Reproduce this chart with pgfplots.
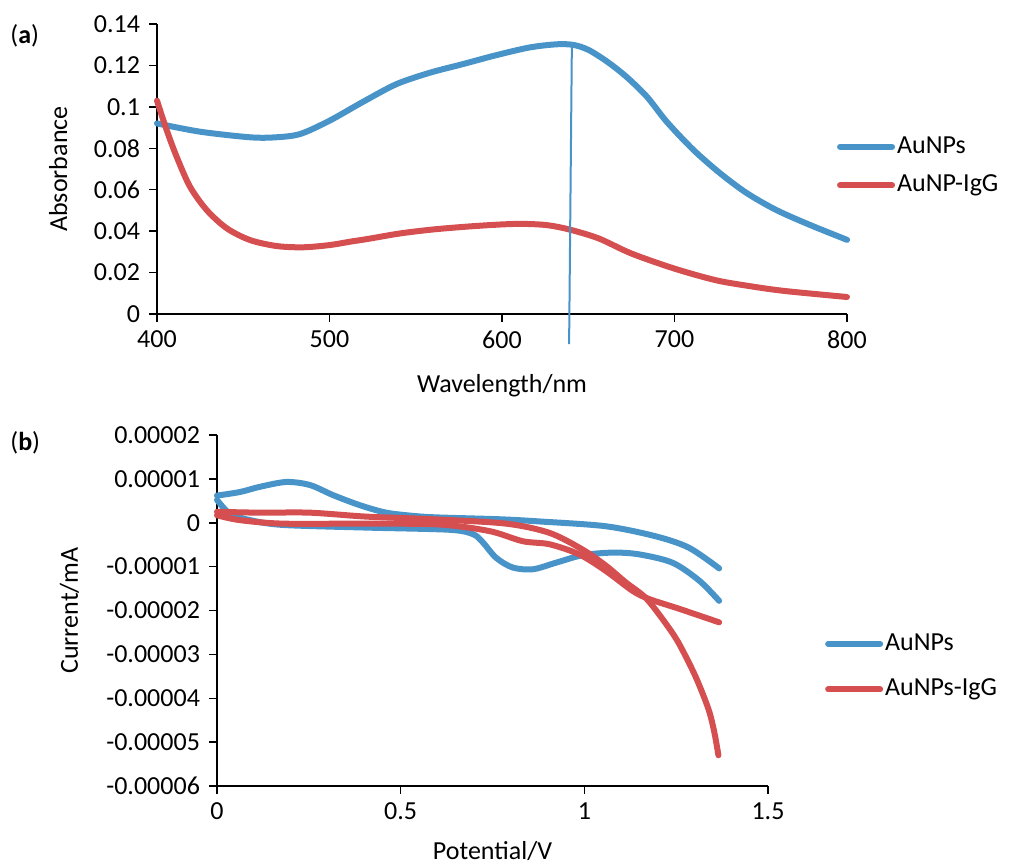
\documentclass[border=0pt]{standalone}
\usepackage{pgfplots}
\pgfplotsset{compat=1.18}
\usepackage{fontspec}
\setmainfont{Carlito}
\definecolor{cblue}{RGB}{72,148,201}
\definecolor{cred}{RGB}{213,78,80}
\begin{document}
\fontsize{13}{15.6}\selectfont
\begin{tikzpicture}
\path[use as bounding box] (0,0) rectangle (505pt,433pt);
\pgfplotsset{
  common/.style={
    scale only axis,
    axis x line=bottom, axis y line=left,
    axis line style={-, line width=0.75pt, black},
    tick align=outside, major tick length=4pt,
    tick style={line width=0.75pt, black},
    clip=false,
    scaled x ticks=false, scaled y ticks=false,
    legend cell align=left,
    legend image code/.code={\draw[##1, line width=3pt, line cap=round] (0pt,0pt) -- (26pt,0pt);},
    every axis plot/.append style={line width=3pt, line cap=round, line join=round},
  }
}
\node[anchor=base west, inner sep=0pt] at (5pt,411pt) {(\textbf{a})};
\node[anchor=base west, inner sep=0pt] at (5pt,207.5pt) {(\textbf{b})};
% ---------- panel (a)
\begin{axis}[common,
  at={(78.5pt,276pt)}, anchor=south west,
  width=345pt, height=145pt,
  xmin=400, xmax=800, ymin=0, ymax=0.14,
  xtick={400,500,600,700,800}, xticklabels={400,500,600,700,800},
  ytick={0,0.02,0.04,0.06,0.08,0.1,0.12,0.14},
  yticklabels={0,0.02,0.04,0.06,0.08,0.1,0.12,0.14},
  xlabel={Wavelength/nm}, ylabel={Absorbance},
  xlabel style={at={(axis description cs:0.5,-0.269)}, anchor=base},
  ylabel style={at={(axis description cs:-0.1304,0.5)}, anchor=base},
  legend style={at={(axis description cs:0.985,0.51)}, anchor=west, draw=none, fill=none,
    inner sep=0pt, row sep=7pt, nodes={inner sep=1pt, anchor=west}},
]
\addplot[cblue, smooth] coordinates {
(400,0.0920) (425,0.0880) (454,0.0853) (469,0.0853) (483,0.0869) (500,0.0933)
(519.6,0.1025) (538.9,0.1110) (558.3,0.1165) (577.6,0.1207) (596.9,0.1250)
(616.2,0.1287) (631.7,0.1302) (641.4,0.1299) (650.1,0.1275) (661,0.1218) (672,0.1146)
(684,0.1049) (695.5,0.0928) (711,0.0792) (726.5,0.0679) (742,0.0583) (759,0.0502)
(778.5,0.0430) (800,0.0358)};
\addlegendentry{AuNPs}
\addplot[cred, smooth] coordinates {
(400,0.1030) (405.6,0.0888) (411.4,0.0759) (419.1,0.0615) (428.8,0.0502) (440.4,0.0414)
(453.9,0.0357) (469.4,0.0328) (484.8,0.0322) (500.3,0.0333) (511.9,0.0349) (522,0.0362)
(541,0.0389) (560,0.0408) (580,0.0422) (599,0.0432) (612,0.0435) (626,0.0429)
(639,0.0408) (656,0.0365) (675,0.0292) (700,0.0219) (724,0.0163) (744,0.0134)
(764,0.0111) (800,0.0082)};
\addlegendentry{AuNP-IgG}
\addplot[cblue, line width=1pt, line cap=butt, forget plot] coordinates {(640.5,0.1295) (638.9,-0.0145)};
\end{axis}
% ---------- panel (b)
\begin{axis}[common,
  at={(108.5pt,40pt)}, anchor=south west,
  width=275.5pt, height=175.5pt,
  xmin=0, xmax=1.5, ymin=-6e-5, ymax=2e-5,
  xtick={0,0.5,1,1.5}, xticklabels={0,0.5,1,1.5},
  ytick={-6e-5,-5e-5,-4e-5,-3e-5,-2e-5,-1e-5,0,1e-5,2e-5},
  yticklabels={-0.00006,-0.00005,-0.00004,-0.00003,-0.00002,-0.00001,0,0.00001,0.00002},
  xlabel={Potential/V}, ylabel={Current/mA},
  xlabel style={at={(axis description cs:0.5,-0.2108)}, anchor=base},
  ylabel style={at={(axis description cs:-0.2523,0.5)}, anchor=base},
  legend style={at={(axis description cs:1.103,0.34)}, anchor=west, draw=none, fill=none,
    inner sep=0pt, row sep=10.5pt, nodes={inner sep=1pt, anchor=west}},
]
\addplot[cblue, smooth] coordinates {
(0.000,0.62e-5) (0.062,0.70e-5) (0.117,0.82e-5) (0.189,0.93e-5) (0.253,0.86e-5)
(0.316,0.63e-5) (0.389,0.40e-5) (0.461,0.23e-5) (0.543,0.15e-5) (0.606,0.12e-5)
(0.769,0.08e-5) (0.878,0.03e-5) (1.059,-0.08e-5) (1.195,-0.31e-5) (1.285,-0.57e-5)
(1.367,-1.04e-5)};
\addlegendentry{AuNPs}
\addplot[cblue, smooth, forget plot] coordinates {
(1.367,-1.78e-5) (1.313,-1.32e-5) (1.240,-0.91e-5) (1.149,-0.72e-5) (1.077,-0.68e-5)
(0.995,-0.74e-5) (0.923,-0.91e-5) (0.860,-1.06e-5) (0.805,-1.02e-5) (0.760,-0.80e-5)
(0.724,-0.45e-5) (0.697,-0.26e-5) (0.633,-0.16e-5) (0.407,-0.11e-5) (0.180,-0.05e-5)
(0.090,0.06e-5) (0.035,0.21e-5) (0.000,0.52e-5)};
\addplot[cred, smooth] coordinates {
(0.000,0.25e-5) (0.117,0.23e-5) (0.253,0.23e-5) (0.407,0.14e-5) (0.588,0.08e-5)
(0.787,-0.02e-5) (0.905,-0.23e-5) (0.995,-0.61e-5) (1.059,-0.98e-5) (1.113,-1.36e-5)
(1.168,-1.72e-5) (1.222,-2.30e-5) (1.258,-2.76e-5) (1.303,-3.51e-5) (1.338,-4.25e-5)
(1.354,-4.78e-5) (1.365,-5.30e-5)};
\addlegendentry{AuNPs-IgG}
\addplot[cred, smooth, forget plot] coordinates {
(0.000,0.17e-5) (0.062,0.06e-5) (0.180,-0.02e-5) (0.407,-0.02e-5) (0.606,-0.04e-5)
(0.742,-0.19e-5) (0.832,-0.42e-5) (0.905,-0.49e-5) (0.986,-0.72e-5) (1.059,-1.10e-5)
(1.131,-1.55e-5) (1.177,-1.74e-5) (1.258,-1.96e-5) (1.367,-2.27e-5)};
\end{axis}
\end{tikzpicture}
\end{document}
